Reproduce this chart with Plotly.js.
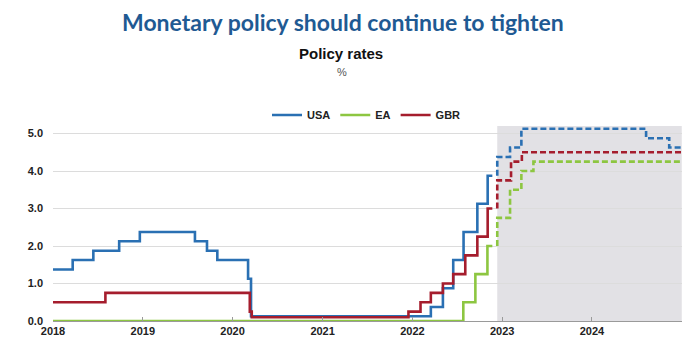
<!DOCTYPE html>
<html>
<head>
<meta charset="utf-8">
<script src="https://cdn.plot.ly/plotly-3.0.1.min.js"></script>
<style>html,body{margin:0;padding:0;background:#fff;}#chart{width:700px;height:350px;}</style>
</head>
<body>
<div id="chart"></div>
<script>
// Historical policy rates (%), step changes
var usaDates = ['2018-01-01','2018-03-22','2018-06-14','2018-09-27','2018-12-20','2019-08-01','2019-09-19','2019-10-31','2020-03-04','2020-03-16','2022-03-17','2022-05-05','2022-06-16','2022-07-28','2022-09-22','2022-11-03','2022-11-22'];
var usaRates = [1.375,1.625,1.875,2.125,2.375,2.125,1.875,1.625,1.125,0.125,0.375,0.875,1.625,2.375,3.125,3.875,3.875];
var eaDates = ['2018-01-01','2022-07-27','2022-09-14','2022-11-02','2022-11-22'];
var eaRates = [0.0,0.5,1.25,2.0,2.0];
var gbrDates = ['2018-01-01','2018-08-02','2020-03-11','2020-03-19','2021-12-16','2022-02-03','2022-03-17','2022-05-05','2022-06-16','2022-08-04','2022-09-22','2022-11-03','2022-11-22'];
var gbrRates = [0.5,0.75,0.25,0.1,0.25,0.5,0.75,1.0,1.25,1.75,2.25,3.0,3.0];
// Projections (dashed)
var usaProjDates = ['2022-12-12','2022-12-12','2023-02-02','2023-03-20','2024-08-08','2024-11-10','2024-12-31'];
var usaProjRates = [3.875,4.375,4.625,5.125,4.875,4.625,4.625];
var eaProjDates = ['2022-12-12','2022-12-12','2023-02-02','2023-03-20','2023-05-08','2024-12-31'];
var eaProjRates = [2.0,2.75,3.5,4.0,4.25,4.25];
var gbrProjDates = ['2022-12-12','2022-12-12','2023-02-06','2023-03-22','2024-12-31'];
var gbrProjRates = [3.0,3.75,4.25,4.5,4.5];
var projStart = '2022-12-12';
var projEnd = '2024-12-31';
var yTicks = [0,1,2,3,4,5];
var xTicks = ['2018-01-01','2019-01-01','2020-01-01','2021-01-01','2022-01-01','2023-01-01','2024-01-01'];
var xTickText = ['2018','2019','2020','2021','2022','2023','2024'];

var cBlue = '#2a70b3', cGreen = '#8dc641', cRed = '#a51d2d';
function solid(name, x, y, c) {
  return {x: x, y: y, name: name, type: 'scatter', mode: 'lines', line: {shape: 'hv', color: c, width: 2.6}, hoverinfo: 'skip'};
}
function dashed(name, x, y, c) {
  return {x: x, y: y, name: name, type: 'scatter', mode: 'lines', showlegend: false, line: {shape: 'hv', color: c, width: 2.6, dash: '6px,3px'}, hoverinfo: 'skip'};
}
var tUSA = solid('USA', usaDates, usaRates, cBlue);
var tEA = solid('EA', eaDates, eaRates, cGreen);
var tGBR = solid('GBR', gbrDates, gbrRates, cRed);
tUSA.legendrank = 1; tEA.legendrank = 2; tGBR.legendrank = 3;
var data = [tEA, tUSA, tGBR,
  dashed('EA proj', eaProjDates, eaProjRates, cGreen),
  dashed('USA proj', usaProjDates, usaProjRates, cBlue),
  dashed('GBR proj', gbrProjDates, gbrProjRates, cRed)];

var plotH = 350 - 126 - 29;
function py(pix) { return (350 - 29 - pix) / plotH; }
var plotW = 700 - 53 - 18;
function px(pix) { return (pix - 53) / plotW; }
var fam = 'Liberation Sans, Arial, sans-serif';

var layout = {
  width: 700, height: 350,
  margin: {l: 53, r: 18, t: 126, b: 29},
  paper_bgcolor: '#ffffff', plot_bgcolor: '#ffffff',
  showlegend: true,
  legend: {orientation: 'h', x: px(267), xanchor: 'left', y: py(115), yanchor: 'middle', itemwidth: 30, traceorder: 'normal',
    font: {family: fam, size: 11, color: '#222', weight: 'bold'}, bgcolor: 'rgba(0,0,0,0)', tracegroupgap: 0},
  xaxis: {type: 'date', range: ['2018-01-01', '2025-01-01'], tickvals: xTicks, ticktext: xTickText,
    ticks: 'inside', ticklen: 4, tickcolor: '#9a9a9a', showgrid: false, showline: true, linecolor: '#9a9a9a', linewidth: 1,
    tickfont: {family: fam, size: 11, color: '#222', weight: 'bold'}, zeroline: false, fixedrange: true},
  yaxis: {range: [0, 5.2], tickvals: yTicks, tickformat: '.1f', showgrid: true, gridcolor: '#dcdcdc', gridwidth: 1,
    zeroline: false, showline: false, ticks: '', ticklabelstandoff: 9,
    tickfont: {family: fam, size: 11, color: '#222', weight: 'bold'}, fixedrange: true},
  shapes: [{type: 'rect', xref: 'x', yref: 'paper', x0: projStart, x1: projEnd, y0: 0, y1: 1, fillcolor: '#e2e1e5', line: {width: 0}, layer: 'below'}],
  annotations: [
    {text: 'Monetary policy should continue to tighten', xref: 'paper', yref: 'paper', x: px(343), y: py(22), xanchor: 'center', yanchor: 'middle', showarrow: false,
      font: {family: 'Lato, sans-serif', size: 23, color: '#1f5a93', weight: 'bold'}},
    {text: 'Policy rates', xref: 'paper', yref: 'paper', x: px(341), y: py(53), xanchor: 'center', yanchor: 'middle', showarrow: false,
      font: {family: fam, size: 15, color: '#111', weight: 'bold'}},
    {text: '%', xref: 'paper', yref: 'paper', x: px(342), y: py(72), xanchor: 'center', yanchor: 'middle', showarrow: false,
      font: {family: fam, size: 11, color: '#555'}}
  ]
};

Plotly.newPlot('chart', data, layout, {displayModeBar: false, staticPlot: true});
</script>
</body>
</html>
